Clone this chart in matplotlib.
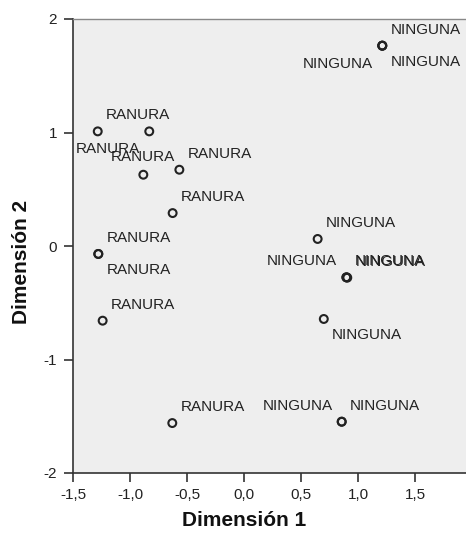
import matplotlib
matplotlib.use('Agg')
import matplotlib.pyplot as plt
from matplotlib.ticker import FuncFormatter

# coordenadas de los objetos (dimension 1, dimension 2) y su etiqueta
dim1 = [-1.283, -0.831, -0.883, -0.567, -0.626, -1.278, -1.278, -1.240, -0.629,
        1.213, 1.213, 1.213, 0.646, 0.897, 0.900, 0.906, 0.700, 0.857, 0.857]
dim2 = [1.010, 1.010, 0.628, 0.672, 0.290, -0.070, -0.070, -0.658, -1.560,
        1.765, 1.765, 1.765, 0.062, -0.276, -0.276, -0.279, -0.643, -1.548, -1.548]
etiquetas = ['RANURA'] * 9 + ['NINGUNA'] * 10

# donde se coloca cada etiqueta respecto a su punto
lugar = ['ur', 'll', 'uc', 'ur', 'ur', 'ur', 'lr', 'ur', 'ur',
         'ur', 'll', 'lr', 'ur', 'ul', 'ur', 'ur', 'lr', 'ul', 'ur']

x_ticks = [-1.5, -1.0, -0.5, 0.0, 0.5, 1.0, 1.5]
y_ticks = [-2, -1, 0, 1, 2]

desplaza = {
    'ur': ((8, 16), 'left'),
    'lr': ((8, -16), 'left'),
    'ul': ((-9, 16), 'right'),
    'll': ((-9, -18), 'right'),
    'uc': ((0, 18), 'center'),
}

plt.rcParams['font.family'] = ['Liberation Sans', 'DejaVu Sans']

fig = plt.figure(figsize=(4.66, 5.38), dpi=100)
ax = fig.add_axes([73 / 466, 65 / 538, 393 / 466, 454 / 538])
ax.set_facecolor('#eeeeee')

ax.scatter(dim1, dim2, s=32, facecolors='none', edgecolors='#222222',
           linewidths=1.5, zorder=3)

for x, y, t, l in zip(dim1, dim2, etiquetas, lugar):
    off, ha = desplaza[l]
    ax.annotate(t, (x, y), xytext=off, textcoords='offset pixels',
                ha=ha, va='center', fontsize=11, color='#222222')

ax.set_xlim(-1.5, -1.5 + 393 / 114)
ax.set_ylim(-2, 2)
ax.set_xticks(x_ticks)
ax.set_yticks(y_ticks)
ax.xaxis.set_major_formatter(FuncFormatter(lambda v, p: f'{v:.1f}'.replace('.', ',')))
ax.yaxis.set_major_formatter(FuncFormatter(lambda v, p: f'{v:.0f}'))
ax.tick_params(direction='out', length=6.5, width=1.2, color='#333333',
               labelsize=11, labelcolor='#222222')
ax.tick_params(axis='y', pad=5)
ax.tick_params(axis='x', pad=4)

for s in ['left', 'bottom']:
    ax.spines[s].set_color('#333333')
    ax.spines[s].set_linewidth(1.2)
ax.spines['top'].set_color('#888888')
ax.spines['top'].set_linewidth(1.0)
ax.spines['right'].set_visible(False)

ax.set_xlabel('Dimensión 1', fontsize=15, fontweight='bold', color='#111111')
ax.set_ylabel('Dimensión 2', fontsize=15, fontweight='bold', color='#111111')
ax.xaxis.set_label_coords((244 - 73) / 393, -(521 - 473) / 454)
ax.yaxis.set_label_coords(-(73 - 22) / 393, (473 - 262) / 454)
ax.xaxis.label.set_va('center')
ax.yaxis.label.set_va('center')

fig.savefig('out.png', dpi=100)
